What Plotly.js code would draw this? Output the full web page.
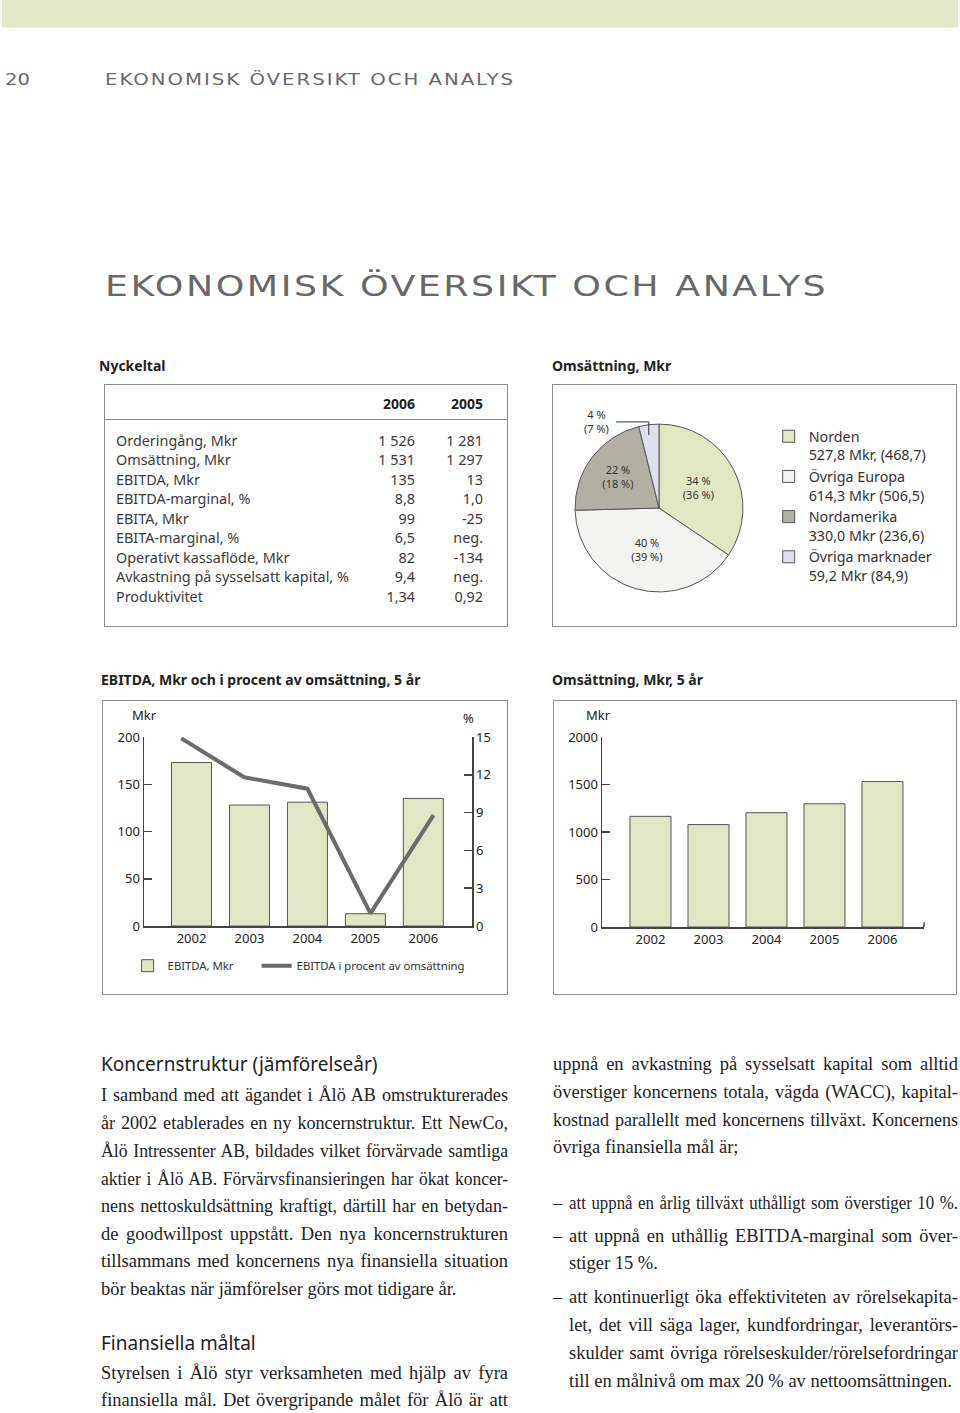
<!DOCTYPE html>
<html><head><meta charset="utf-8">
<script src="https://cdn.plot.ly/plotly-3.0.1.min.js"></script>
<style>
html,body{margin:0;padding:0;background:#fff;}
#page{position:relative;width:960px;height:1413px;overflow:hidden;font-family:'Noto Sans',sans-serif;color:#333;}
.abs{position:absolute;white-space:nowrap;}
.box{position:absolute;border:1.3px solid #8c8c8c;box-sizing:border-box;}
.h{position:absolute;white-space:nowrap;font-weight:700;font-size:14px;line-height:18px;color:#222;}
.row{position:absolute;white-space:nowrap;font-size:14.4px;line-height:19.5px;color:#3a3a3a;}
.num{text-align:right;width:80px;}
.serif{position:absolute;white-space:nowrap;font-family:'Liberation Serif',serif;font-size:18.5px;line-height:22px;color:#222;transform-origin:left center;}
.sh{position:absolute;white-space:nowrap;font-size:19px;line-height:24px;color:#222;}
.wide{position:absolute;white-space:nowrap;font-family:'DejaVu Sans',sans-serif;color:#686868;transform-origin:left center;}
.chart{position:absolute;}
</style></head>
<body><div id="page">
<div class="abs" style="left:2px;top:0;width:956px;height:27px;background:#e2e8c8;border-bottom:1px solid #eef1e0;"></div>
<div class="wide" id="pgnum" data-w="25" style="left:5px;top:70px;font-size:15px;line-height:20px;">20</div>
<div class="wide" id="hdrsmall" data-w="410" style="left:105px;top:70px;font-size:15px;line-height:20px;letter-spacing:1.5px;">EKONOMISK ÖVERSIKT OCH ANALYS</div>
<div class="wide" id="hdrbig" data-w="723" style="left:105px;top:269px;font-size:29px;line-height:34px;letter-spacing:2px;">EKONOMISK ÖVERSIKT OCH ANALYS</div>

<div class="h" style="left:99px;top:357px;">Nyckeltal</div>
<div class="h" style="left:552px;top:357px;">Omsättning, Mkr</div>
<div class="box" style="left:104px;top:384px;width:404px;height:243px;"></div>
<div class="abs" style="left:104px;top:419px;width:404px;height:1.3px;background:#8c8c8c;"></div>
<div id="table"></div>
<div class="box" style="left:552px;top:384px;width:405px;height:243px;"></div>
<div class="chart" id="pie" style="left:552px;top:384px;width:405px;height:243px;"></div>

<div class="h" style="left:101px;top:671px;">EBITDA, Mkr och i procent av omsättning, 5 år</div>
<div class="h" style="left:552px;top:671px;">Omsättning, Mkr, 5 år</div>
<div class="box" style="left:102px;top:700px;width:406px;height:295px;"></div>
<div class="chart" id="ebitda" style="left:102px;top:700px;width:406px;height:295px;"></div>
<div class="box" style="left:553px;top:700px;width:404px;height:295px;"></div>
<div class="chart" id="oms" style="left:553px;top:700px;width:404px;height:295px;"></div>

<div id="text"></div>
</div>
<script>
// ---------- data ----------
const years = ['2002', '2003', '2004', '2005', '2006'];
const ebitdaMkr = [173, 128, 131, 13, 135];
const ebitdaPct = [14.9, 11.8, 10.9, 1.0, 8.8];
const omsMkr = [1165, 1078, 1203, 1297, 1531];

const regions = ['Norden', 'Övriga Europa', 'Nordamerika', 'Övriga marknader'];
const regionMkr = [527.8, 614.3, 330.0, 59.2];
const regionPrevMkr = [468.7, 506.5, 236.6, 84.9];
const regionColors = ['#e1e6c4', '#f3f4f2', '#b2b0a5', '#dde0ec'];

const keyLabels = ['Orderingång, Mkr', 'Omsättning, Mkr', 'EBITDA, Mkr', 'EBITDA-marginal, %', 'EBITA, Mkr',
  'EBITA-marginal, %', 'Operativt kassaflöde, Mkr', 'Avkastning på sysselsatt kapital, %', 'Produktivitet'];
const key2006 = ['1 526', '1 531', '135', '8,8', '99', '6,5', '82', '9,4', '1,34'];
const key2005 = ['1 281', '1 297', '13', '1,0', '-25', 'neg.', '-134', 'neg.', '0,92'];
const keyYears = ['2006', '2005'];

const leftCol = [
  {t:'h', s:'Koncernstruktur (jämförelseår)', y:1064},
  {t:'j', s:'I samband med att ägandet i Ålö AB omstrukturerades', y:1096},
  {t:'j', s:'år 2002 etablerades en ny koncernstruktur. Ett NewCo,', y:1124},
  {t:'j', s:'Ålö Intressenter AB, bildades vilket förvärvade samtliga', y:1152},
  {t:'j', s:'aktier i Ålö AB. Förvärvsfinansieringen har ökat koncer-', y:1180},
  {t:'j', s:'nens nettoskuldsättning kraftigt, därtill har en betydan-', y:1207},
  {t:'j', s:'de goodwillpost uppstått. Den nya koncernstrukturen', y:1235},
  {t:'j', s:'tillsammans med koncernens nya finansiella situation', y:1262},
  {t:'l', s:'bör beaktas när jämförelser görs mot tidigare år.', y:1290},
  {t:'h', s:'Finansiella måltal', y:1343},
  {t:'j', s:'Styrelsen i Ålö styr verksamheten med hjälp av fyra', y:1374},
  {t:'j', s:'finansiella mål. Det övergripande målet för Ålö är att', y:1401}
];
const rightCol = [
  {t:'j', s:'uppnå en avkastning på sysselsatt kapital som alltid', y:1065},
  {t:'j', s:'överstiger koncernens totala, vägda (WACC), kapital-', y:1093},
  {t:'j', s:'kostnad parallellt med koncernens tillväxt. Koncernens', y:1121},
  {t:'l', s:'övriga finansiella mål är;', y:1148},
  {t:'b', s:'att uppnå en årlig tillväxt uthålligt som överstiger 10 %.', y:1204},
  {t:'b', s:'att uppnå en uthållig EBITDA-marginal som över-', y:1237},
  {t:'i', s:'stiger 15 %.', y:1264},
  {t:'b', s:'att kontinuerligt öka effektiviteten av rörelsekapita-', y:1298},
  {t:'ij', s:'let, det vill säga lager, kundfordringar, leverantörs-', y:1326},
  {t:'ij', s:'skulder samt övriga rörelseskulder/rörelsefordringar', y:1354},
  {t:'i', s:'till en målnivå om max 20 % av nettoomsättningen.', y:1382}
];

// ---------- table ----------
const tbl = document.getElementById('table');
function addDiv(parent, cls, style, txt){ const d=document.createElement('div'); d.className=cls; d.setAttribute('style',style); d.textContent=txt; parent.appendChild(d); return d; }
addDiv(tbl,'h num','left:335px;top:395px;width:80px;text-align:right;',keyYears[0]);
addDiv(tbl,'h num','left:403px;top:395px;width:80px;text-align:right;',keyYears[1]);
keyLabels.forEach((lab,i)=>{
  const top = 430.5 + i*19.5;
  addDiv(tbl,'row',`left:116px;top:${top}px;`,lab);
  addDiv(tbl,'row num',`left:335px;top:${top}px;`,key2006[i]);
  addDiv(tbl,'row num',`left:403px;top:${top}px;`,key2005[i]);
});

// ---------- body text ----------
const txt = document.getElementById('text');
const fitLines = [];
function buildCol(lines, x0, width){
  lines.forEach(L=>{
    if(L.t==='h'){ addDiv(txt,'sh',`left:${x0}px;top:${L.y-12}px;`,L.s); return; }
    let x = x0, w = width;
    if(L.t==='b'){ addDiv(txt,'serif',`left:${x0}px;top:${L.y-12}px;`,'–'); }
    if(L.t==='b'||L.t==='i'||L.t==='ij'){ x = x0+16; w = width-16; }
    const d = addDiv(txt,'serif',`left:${x}px;top:${L.y-12}px;`,L.s);
    if(L.t==='j'||L.t==='b'||L.t==='ij') fitLines.push([d,w]);
  });
}
buildCol(leftCol, 101, 407);
buildCol(rightCol, 553, 405);
function fitAll(){
  fitLines.forEach(([d,w])=>{
    d.style.wordSpacing='0px'; d.style.transform='';
    const nat = d.getBoundingClientRect().width;
    const n = (d.textContent.match(/ /g)||[]).length;
    let ws = n ? (w-nat)/n : 0;
    if(ws < 1.5){
      ws = 1.5;
      d.style.wordSpacing = ws+'px';
      const w2 = d.getBoundingClientRect().width;
      d.style.transform = `scaleX(${w/w2})`;
    } else {
      d.style.wordSpacing = ws+'px';
    }
  });
  document.querySelectorAll('.wide').forEach(el=>{
    el.style.transform='';
    const nat = el.getBoundingClientRect().width;
    const target = parseFloat(el.dataset.w);
    el.style.transform = `scaleX(${target/nat})`;
  });
}
fitAll();
if(document.fonts && document.fonts.ready) document.fonts.ready.then(fitAll);

// ---------- charts ----------
const FONT = "'Noto Sans', sans-serif";
const cfg = {displayModeBar:false, staticPlot:true};

// Pie
const total = regionMkr.reduce((a,b)=>a+b,0);
const totalPrev = regionPrevMkr.reduce((a,b)=>a+b,0);
const pct = regionMkr.map(v=>Math.round(v/total*100));
const pctPrev = regionPrevMkr.map(v=>Math.round(v/totalPrev*100));
const fmt = v => v.toFixed(1).replace('.', ',');
const sliceText = pct.map((p,i)=>`${p} %<br>(${pctPrev[i]} %)`);
const legendNames = regions.map((r,i)=>`${r}<br>${fmt(regionMkr[i])} Mkr${i===0?',':''} (${fmt(regionPrevMkr[i])})`);

Plotly.newPlot('pie', [{
  type:'pie', labels:legendNames, values:regionMkr, text:sliceText, textinfo:'text',
  textposition:['inside','inside','inside','none'], insidetextorientation:'horizontal',
  insidetextfont:{size:11, color:'#333', family:FONT},
  marker:{colors:regionColors, line:{color:'#555', width:1}},
  direction:'clockwise', sort:false, rotation:0, hoverinfo:'none',
  domain:{x:[0.0568,0.4716], y:[0.144,0.835]}
}], {
  width:405, height:243, margin:{l:0,r:0,t:0,b:0},
  paper_bgcolor:'rgba(0,0,0,0)', plot_bgcolor:'rgba(0,0,0,0)',
  font:{family:FONT, color:'#333'},
  showlegend:true,
  legend:{x:0.535, y:0.85, xanchor:'left', yanchor:'top', valign:'top', font:{size:14.3, color:'#333', family:FONT}, bgcolor:'rgba(0,0,0,0)', traceorder:'normal'},
  annotations:[{xref:'paper', yref:'paper', x:0.111, y:0.844, text:sliceText[3], showarrow:false, font:{size:11, color:'#333', family:FONT}, xanchor:'center', yanchor:'middle'}],
  shapes:[{type:'path', xref:'paper', yref:'paper', path:'M 0.158 0.844 L 0.239 0.844 L 0.239 0.79', line:{color:'#333', width:1}}]
}, cfg);

// EBITDA
const axisCommon = {showgrid:false, zeroline:false, showline:true, linecolor:'#444', linewidth:1.5, tickfont:{size:13, color:'#222', family:FONT}, fixedrange:true};
Plotly.newPlot('ebitda', [
  {type:'bar', x:years, y:ebitdaMkr, name:'EBITDA, Mkr', width:0.69, legendwidth:84,
   marker:{color:'#e1e7c6', line:{color:'#555', width:1}}, hoverinfo:'none'},
  {type:'scatter', mode:'lines', x:years, y:ebitdaPct, xaxis:'x2', yaxis:'y2', name:'EBITDA i procent av omsättning',
   line:{color:'#6b6b6b', width:4}, hoverinfo:'none'}
], {
  width:406, height:295, margin:{l:42, r:36, t:37, b:69},
  paper_bgcolor:'rgba(0,0,0,0)', plot_bgcolor:'rgba(0,0,0,0)',
  font:{family:FONT, color:'#222'},
  xaxis:Object.assign({}, axisCommon, {type:'category', range:[-0.82,4.84], ticks:''}),
  xaxis2:{type:'category', overlaying:'x', range:[-0.59,4.61], visible:false, fixedrange:true},
  yaxis:Object.assign({}, axisCommon, {range:[0,200], dtick:50, ticks:'inside', ticklen:8, tickcolor:'#444', tickwidth:1.5}),
  yaxis2:Object.assign({}, axisCommon, {overlaying:'y', side:'right', anchor:'x', range:[0,15], dtick:3, ticks:'inside', ticklen:8, tickcolor:'#444', tickwidth:1.5}),
  showlegend:true,
  legend:{orientation:'h', x:-0.05, y:-0.21, xanchor:'left', yanchor:'middle', font:{size:11.3, color:'#333', family:FONT}, bgcolor:'rgba(0,0,0,0)'},
  annotations:[
    {xref:'paper', yref:'paper', x:0, y:1.116, text:'Mkr', showarrow:false, font:{size:13, color:'#222', family:FONT}, xanchor:'center', yanchor:'middle'},
    {xref:'paper', yref:'paper', x:0.988, y:1.10, text:'%', showarrow:false, font:{size:13, color:'#222', family:FONT}, xanchor:'center', yanchor:'middle'}
  ]
}, cfg);

// Omsättning
Plotly.newPlot('oms', [
  {type:'bar', x:years, y:omsMkr, name:'Omsättning, Mkr', width:0.707,
   marker:{color:'#e1e7c6', line:{color:'#555', width:1}}, hoverinfo:'none'}
], {
  width:404, height:295, margin:{l:49, r:33, t:37, b:68},
  paper_bgcolor:'rgba(0,0,0,0)', plot_bgcolor:'rgba(0,0,0,0)',
  font:{family:FONT, color:'#222'},
  xaxis:Object.assign({}, axisCommon, {type:'category', range:[-0.836,4.716], ticks:''}),
  yaxis:Object.assign({}, axisCommon, {range:[0,2000], dtick:500, ticks:'inside', ticklen:8, tickcolor:'#444', tickwidth:1.5}),
  showlegend:false,
  annotations:[
    {xref:'paper', yref:'paper', x:-0.012, y:1.116, text:'Mkr', showarrow:false, font:{size:13, color:'#222', family:FONT}, xanchor:'center', yanchor:'middle'}
  ],
  shapes:[{type:'line', xref:'paper', yref:'paper', x0:1, x1:1, y0:0, y1:0.025, line:{color:'#444', width:1.5}}]
}, cfg);
</script>
</body></html>
